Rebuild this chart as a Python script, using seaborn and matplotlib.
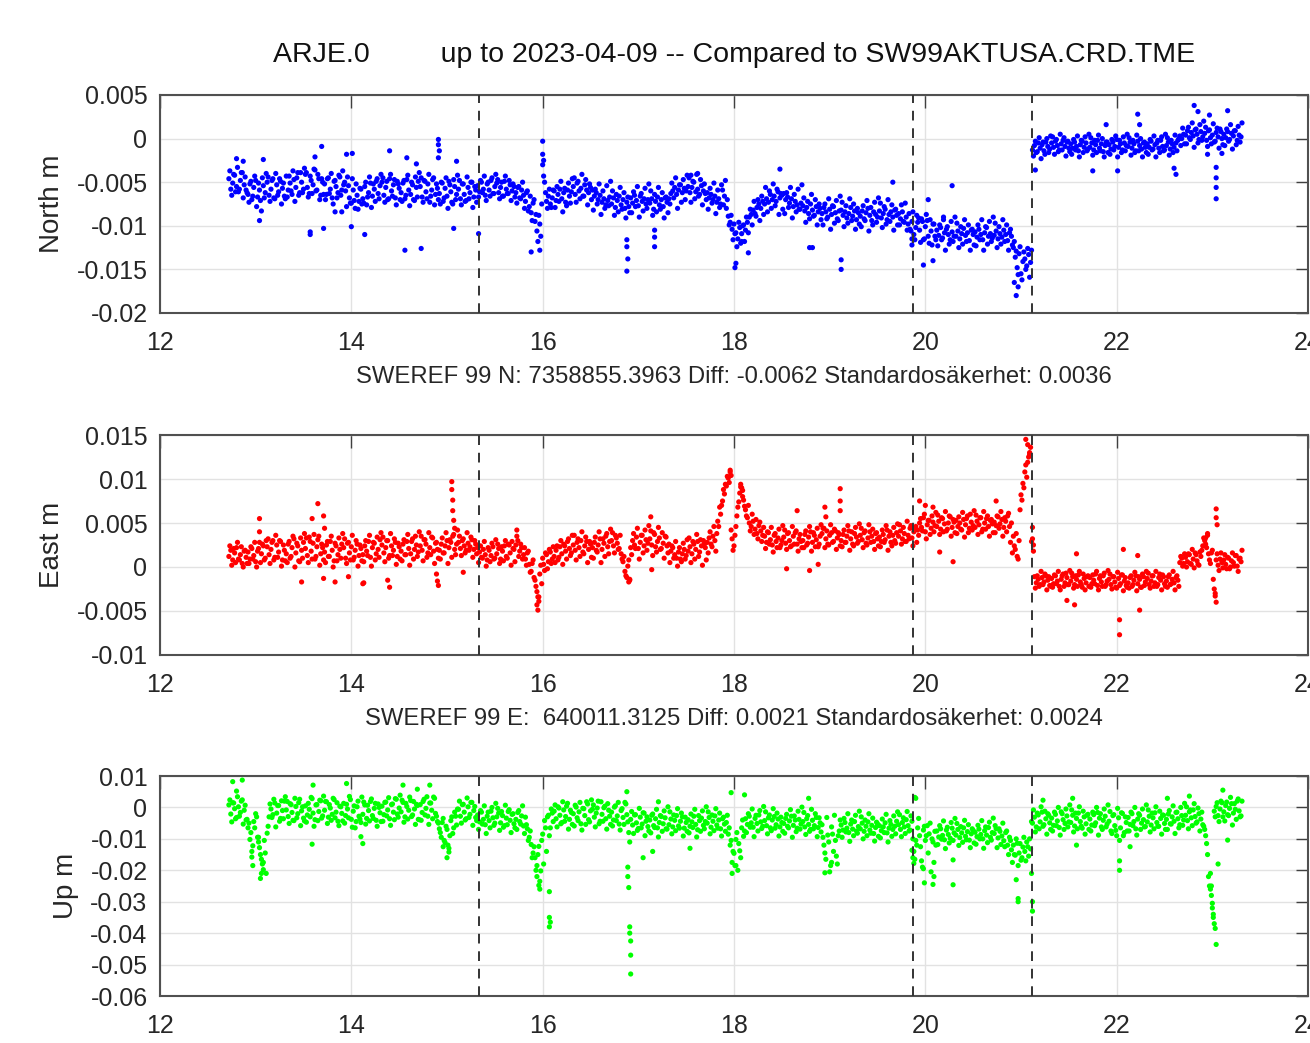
import numpy as np
import pandas as pd
import matplotlib
matplotlib.use("Agg")
import matplotlib.pyplot as plt
import seaborn as sns

# ---------------- data ----------------
title_text = "ARJE.0         up to 2023-04-09 -- Compared to SW99AKTUSA.CRD.TME"
north_info = "SWEREF 99 N: 7358855.3963 Diff: -0.0062 Standardosäkerhet: 0.0036"
east_info = "SWEREF 99 E:  640011.3125 Diff: 0.0021 Standardosäkerhet: 0.0024"
component_labels = ["North m", "East m", "Up m"]
break_epochs = [15.33, 19.87, 21.11]
x_ticks = [12, 14, 16, 18, 20, 22, 24]
north_ticks = [0.005, 0, -0.005, -0.01, -0.015, -0.02]
east_ticks = [0.015, 0.01, 0.005, 0, -0.005, -0.01]
up_ticks = [0.01, 0, -0.01, -0.02, -0.03, -0.04, -0.05, -0.06]

# two interleaved regular samplings of the series (years since 2000)
first_epoch_a = 12.72
first_epoch_b = 12.73
epoch_step = 0.02

# North residuals, mm (sampling a)
north_a_mm = [
    -4.6, -5.8, -5.1, -4.2, -5.5, -6.1, -4.8, -3.9, -5.3, -5.9,
    -6.4, -5.2, -7.0, -5.6, -4.8, -6.7, -5.9, -8.3, -5.4, -6.2,
    -5.0, -6.5, -5.8, -4.6, -6.9, -5.3, -6.1, -4.9, -5.7, -6.6,
    -4.3, -5.9, -5.1, -6.4, -4.7, -5.6, -3.9, -6.2, -5.0, -5.8,
    -4.1, -5.6, -6.3, -4.8, -5.3, -3.6, -5.9, -4.6, -6.5, -5.0,
    -5.2, -6.4, -4.5, -5.8, -6.8, -4.9, -5.5, -6.2, -4.4, -5.9,
    -5.3, -6.0, -4.4, -6.8, -7.4, -5.9, -8.0, -6.5, -7.2, -5.8,
    -6.9, -5.5, -7.6, -6.2, -5.1, -6.6, -5.8, -4.9, -6.3, -5.4,
    -5.0, -6.5, -5.6, -7.0, -4.6, -6.0, -5.3, -6.8, -4.9, -5.7,
    -6.2, -5.1, -6.9, -4.7, -5.9, -6.4, -5.3, -7.1, -5.6, -4.9,
    -5.5, -6.7, -4.8, -6.1, -5.2, -7.3, -5.9, -4.5, -6.4, -5.7,
    -6.3, -5.0, -7.2, -5.7, -6.6, -4.9, -6.1, -7.5, -5.5, -6.4,
    -5.8, -6.9, -5.2, -6.4, -7.1, -5.6, -6.2, -5.0, -6.7, -5.9,
    -5.4, -6.1, -5.0, -5.8, -6.5, -5.2, -5.9, -4.8, -6.3, -5.5,
    -5.1, -6.2, -5.6, -6.6, -4.9, -5.8, -6.3, -5.3, -6.0, -5.5,
    -6.2, -5.6, -6.8, -5.9, -6.5, -7.2, -6.0, -7.8, -8.5, -7.4,
    -9.5, -10.6, -8.8, -11.2, -3.0, -5.0, -7.2, -6.6, -7.5, -6.8,
    -6.0, -7.1, -6.4, -5.8, -6.9, -6.2, -7.3, -5.9, -6.6, -6.1,
    -5.5, -6.4, -5.1, -6.0, -5.7, -6.6, -5.3, -5.9, -6.2, -5.6,
    -5.9, -6.6, -6.2, -7.0, -6.5, -7.3, -6.9, -7.6, -7.1, -6.7,
    -7.5, -6.8, -7.9, -7.1, -6.6, -7.6, -7.0, -8.0, -7.3, -7.8,
    -6.8, -7.4, -6.5, -7.1, -7.7, -6.6, -7.2, -6.9, -7.5, -7.0,
    -7.4, -6.9, -8.1, -7.2, -6.7, -7.6, -7.0, -7.8, -6.8, -7.3,
    -6.9, -6.3, -6.0, -5.6, -6.4, -5.9, -5.3, -6.2, -5.7, -6.0,
    -5.5, -6.2, -5.6, -5.0, -6.1, -5.8, -6.4, -5.4, -6.0, -6.3,
    -6.2, -6.8, -6.4, -7.0, -6.6, -7.3, -6.9, -7.5, -5.9, -6.6,
    -8.0, -8.9, -9.6, -10.4, -9.8, -10.8, -11.5, -10.2, -10.9, -9.9,
    -10.5, -9.6, -9.0, -8.7, -8.2, -8.6, -7.9, -7.5, -8.0, -7.2,
    -7.5, -6.9, -7.3, -6.4, -7.0, -6.6, -7.2, -6.1, -6.8, -6.5,
    -6.3, -7.0, -6.7, -7.4, -6.9, -7.8, -7.2, -7.6, -8.1, -7.4,
    -7.7, -8.3, -7.9, -8.6, -7.5, -8.2, -8.8, -7.8, -8.4, -8.0,
    -8.6, -7.9, -8.4, -9.0, -8.1, -8.7, -7.8, -8.5, -9.2, -8.3,
    -8.2, -8.8, -8.4, -9.1, -8.6, -7.9, -8.9, -8.3, -9.3, -8.5,
    -8.9, -8.3, -9.2, -8.5, -8.0, -8.8, -9.4, -8.4, -8.7, -9.0,
    -8.3, -9.1, -8.6, -8.1, -9.3, -8.7, -8.4, -9.0, -8.2, -8.8,
    -8.6, -9.2, -8.4, -9.6, -9.0, -9.8, -10.4, -9.5, -11.0, -10.2,
    -9.6, -10.5, -9.2, -11.6, -10.1, -9.4, -12.0, -10.6, -9.8, -11.2,
    -10.5, -11.1, -10.2, -11.4, -10.8, -10.4, -11.0, -11.6, -10.7, -11.2,
    -11.2, -10.6, -11.5, -10.9, -10.3, -11.1, -10.8, -11.7, -10.5, -11.0,
    -10.7, -11.3, -10.4, -11.0, -11.6, -10.8, -10.2, -11.2, -10.9, -11.4,
    -11.1, -10.6, -11.5, -10.9, -11.3, -10.5, -11.0, -11.7, -10.8, -11.2,
    -12.5, -13.6, -14.8, -13.2, -15.5, -14.1, -13.8, -14.6, -13.3, -14.2,
    -1.3, -0.8, -1.6, -0.5, -1.1, -0.7, -1.4, -0.4, -0.9, -1.2,
    -0.5, -1.0, -0.3, -0.8, -1.3, -0.6, -0.2, -0.9, -0.4, -1.1,
    -0.6, -1.1, -0.4, -0.9, -1.4, -0.7, -0.3, -1.0, -0.5, -1.2,
    -1.0, -0.5, -1.3, -0.7, -0.2, -1.1, -0.6, -1.5, -0.8, -0.4,
    -0.7, -1.2, -0.4, -0.9, -0.1, -1.0, -0.6, -1.3, -0.5, -0.8,
    -0.9, -0.4, -1.1, -0.6, -1.4, -0.3, -0.8, -1.2, -0.5, -1.0,
    -0.6, -1.0, -0.3, -1.2, -0.7, -0.5, -1.1, -0.2, -0.9, -1.3,
    -0.8, -0.4, -1.2, -0.6, -1.0, -0.5, -0.2, 0.3, 0.0, 0.5,
    0.4, 0.9, 0.1, 0.7, 0.3, 1.0, 0.5, -0.1, 0.8, 0.2,
    0.6, -0.2, 0.9, 0.1, 0.4, -0.4, 0.7, 0.2, 1.1, 0.0,
    0.5, 0.1, 0.8, -0.1, 0.6, 0.3, 0.9, -0.2, 0.4, 0.2,
]
# North residuals, mm (sampling b)
north_b_mm = [
    -3.7, -6.5, -4.1, -6.1, -3.3, -5.8, -3.9, -6.8, -4.4, -6.2,
    -7.3, -4.9, -6.6, -4.3, -7.8, -5.1, -7.1, -4.5, -6.8, -4.0,
    -4.4, -7.2, -4.8, -6.8, -4.0, -6.5, -4.6, -7.5, -5.1, -6.9,
    -6.7, -4.3, -6.0, -3.7, -7.2, -4.5, -6.5, -3.9, -6.2, -3.4,
    -3.9, -6.7, -4.3, -6.3, -3.5, -6.0, -4.1, -7.0, -4.6, -6.4,
    -7.0, -4.6, -6.3, -4.0, -7.5, -4.8, -6.8, -4.2, -6.5, -3.7,
    -5.0, -7.8, -5.4, -7.4, -4.6, -7.1, -5.2, -8.1, -5.7, -7.5,
    -7.4, -5.0, -6.7, -4.4, -7.9, -5.2, -7.2, -4.6, -6.9, -4.1,
    -4.5, -7.3, -4.9, -6.9, -4.1, -6.6, -4.7, -7.6, -5.2, -7.0,
    -7.2, -4.8, -6.5, -4.2, -7.7, -5.0, -7.0, -4.4, -6.7, -3.9,
    -4.5, -7.3, -4.9, -6.9, -4.1, -6.6, -4.7, -7.6, -5.2, -7.0,
    -7.5, -5.1, -6.8, -4.5, -8.0, -5.3, -7.3, -4.7, -7.0, -4.2,
    -4.8, -7.6, -5.2, -7.2, -4.4, -6.9, -5.0, -7.9, -5.5, -7.3,
    -6.7, -4.8, -6.2, -4.3, -7.1, -5.0, -6.6, -4.5, -6.3, -4.1,
    -4.7, -6.9, -5.0, -6.6, -4.3, -6.3, -4.8, -7.1, -5.2, -6.7,
    -7.4, -5.5, -6.9, -5.0, -8.0, -6.2, -8.3, -6.6, -9.4, -7.0,
    -8.7, -11.8, -9.8, -7.5, -4.3, -6.2, -8.0, -5.8, -7.9, -5.9,
    -7.9, -5.5, -7.2, -4.9, -8.4, -5.7, -7.7, -5.1, -7.4, -4.6,
    -4.5, -7.3, -4.9, -6.9, -4.1, -6.6, -4.7, -7.6, -5.2, -7.0,
    -8.2, -5.8, -7.5, -5.2, -8.7, -6.0, -8.0, -5.4, -7.7, -4.9,
    -6.0, -8.8, -6.4, -8.4, -5.6, -8.1, -6.2, -9.1, -6.7, -8.5,
    -8.5, -6.1, -7.8, -5.5, -9.0, -6.3, -8.3, -5.7, -8.0, -5.2,
    -6.0, -8.8, -6.4, -8.4, -5.6, -8.1, -6.2, -9.1, -6.7, -8.5,
    -7.5, -5.1, -6.8, -4.5, -8.0, -5.3, -7.3, -4.7, -7.0, -4.2,
    -4.5, -7.3, -4.9, -6.9, -4.1, -6.6, -4.7, -7.6, -5.2, -7.0,
    -8.1, -5.7, -7.4, -5.1, -8.6, -5.9, -7.9, -5.3, -7.6, -4.8,
    -7.0, -9.9, -8.8, -11.6, -10.9, -12.4, -9.6, -12.0, -10.0, -11.8,
    -9.0, -10.8, -8.1, -9.9, -7.2, -8.9, -7.0, -9.4, -6.6, -8.7,
    -5.6, -8.4, -6.0, -8.0, -5.2, -7.7, -5.8, -8.7, -6.3, -8.1,
    -8.6, -6.2, -7.9, -5.6, -9.1, -6.4, -8.4, -5.8, -8.1, -5.3,
    -6.8, -9.6, -7.2, -9.2, -6.4, -8.9, -7.0, -9.9, -7.5, -9.3,
    -9.9, -7.5, -9.2, -6.9, -10.4, -7.7, -9.7, -7.1, -9.4, -6.6,
    -7.3, -10.1, -7.7, -9.7, -6.9, -9.4, -7.5, -10.4, -8.0, -9.8,
    -10.1, -7.7, -9.4, -7.1, -10.6, -7.9, -9.9, -7.3, -9.6, -6.8,
    -7.4, -10.2, -7.8, -9.8, -7.0, -9.5, -7.6, -10.5, -8.1, -9.9,
    -9.9, -7.6, -9.5, -7.4, -10.5, -8.6, -10.6, -8.4, -11.6, -8.8,
    -9.1, -11.9, -9.5, -11.5, -8.7, -11.2, -9.3, -12.2, -9.8, -11.6,
    -12.3, -9.9, -11.6, -9.3, -12.8, -10.1, -12.1, -9.5, -11.8, -9.0,
    -9.7, -12.5, -10.1, -12.1, -9.3, -11.8, -9.9, -12.8, -10.4, -12.2,
    -12.3, -9.9, -11.6, -9.3, -12.8, -10.1, -12.1, -9.5, -11.8, -9.0,
    -9.7, -12.5, -10.1, -12.1, -9.3, -11.8, -9.9, -12.8, -10.4, -12.2,
    -11.8, -12.9, -15.6, -12.4, -16.2, -13.0, -15.0, -12.6, -15.9, -12.8,
    -2.0, -0.3, -1.5, 0.1, -2.3, -0.4, -1.8, 0.0, -1.6, 0.3,
    0.2, -1.8, -0.1, -1.5, 0.5, -1.3, 0.1, -2.0, -0.3, -1.5,
    -1.8, -0.1, -1.3, 0.3, -2.1, -0.2, -1.6, 0.2, -1.4, 0.5,
    0.1, -1.9, -0.2, -1.6, 0.4, -1.4, 0.0, -2.1, -0.4, -1.6,
    -1.8, -0.1, -1.3, 0.3, -2.1, -0.2, -1.6, 0.2, -1.4, 0.5,
    0.1, -1.9, -0.2, -1.6, 0.4, -1.4, 0.0, -2.1, -0.4, -1.6,
    -1.8, -0.1, -1.3, 0.3, -2.1, -0.2, -1.6, 0.2, -1.4, 0.5,
    0.1, -1.9, -0.2, -1.6, 0.4, -1.4, 0.0, -0.8, 1.2, -0.6,
    -0.6, 1.3, -0.1, 1.8, -1.0, 1.1, -0.5, 1.6, -0.2, 2.0,
    1.3, -0.9, 1.0, -0.6, 1.7, -0.3, 1.2, -1.1, 0.8, -0.7,
    -0.8, 1.1, -0.3, 1.6, -1.2, 0.9, -0.7, 1.4, -0.4, 1.8,
]
north_outliers = [
    (12.80, -2.3), (12.87, -2.6), (13.04, -9.4), (13.08, -2.4), (13.57, -10.7),
    (13.57, -11.0), (13.69, -0.9), (13.62, -2.1), (13.71, -10.3), (13.83, -8.4),
    (13.90, -8.4), (13.95, -1.8), (14.01, -1.7), (14.00, -10.1), (14.14, -11.0),
    (14.56, -12.8), (14.73, -12.6), (14.40, -1.4), (14.58, -2.2), (14.68, -2.9),
    (14.91, -0.1), (14.91, -0.7), (14.92, -1.4), (14.91, -2.2), (15.07, -10.3),
    (15.10, -2.6), (15.33, -10.9), (15.88, -13.0), (15.97, -12.8), (16.00, -0.3),
    (16.00, -1.8), (16.01, -2.5), (16.88, -11.6), (16.88, -12.4), (16.89, -13.8),
    (16.88, -15.2), (17.17, -10.5), (17.17, -11.3), (17.17, -12.4), (17.62, -4.0),
    (17.55, -4.2), (18.01, -14.8), (18.02, -14.3), (18.15, -13.1), (18.08, -11.8),
    (18.48, -3.5), (18.79, -12.5), (18.82, -12.5), (19.12, -13.9), (19.12, -15.0),
    (19.66, -5.0), (19.86, -11.5), (19.86, -12.2), (19.98, -14.5), (20.08, -14.0),
    (20.03, -7.0), (20.28, -5.4), (20.19, -9.0), (20.93, -16.5), (20.95, -18.0),
    (20.97, -17.0), (21.15, -3.6), (21.75, -3.7), (22.01, -3.7), (22.22, 2.8),
    (22.24, 1.6), (21.89, 1.6), (22.62, -4.1), (22.60, -3.4), (22.81, 3.8),
    (22.85, 3.1), (22.97, 2.7), (23.16, 3.2), (23.04, -3.3), (23.04, -4.5),
    (23.04, -5.6), (23.04, -6.9), (23.10, -1.7), (22.95, -1.8),
]

# East residuals, mm (sampling a)
east_a_mm = [
    1.2, 1.9, 0.8, 1.6, 2.2, 0.9, 1.4, 0.4, 1.8, 1.1,
    1.7, 0.9, 2.1, 1.3, 0.6, 1.8, 2.8, 1.5, 2.4, 1.0,
    2.3, 1.4, 2.0, 3.0, 1.1, 2.5, 1.7, 2.9, 0.8, 1.9,
    1.5, 2.6, 1.0, 2.2, 3.2, 1.6, 2.4, 0.6, 1.9, 2.8,
    2.1, 1.3, 3.4, 1.8, 2.7, 0.9, 2.3, 3.5, 1.5, 2.2,
    1.7, 2.5, 1.2, 2.9, 1.9, 0.7, 2.4, 1.4, 2.0, 2.6,
    2.2, 1.0, 2.7, 1.6, 2.3, 0.8, 1.9, 2.6, 1.3, 2.1,
    1.4, 2.4, 1.8, 2.9, 1.1, 2.2, 2.7, 1.5, 2.0, 3.1,
    2.5, 1.6, 2.2, 3.0, 1.3, 2.4, 1.9, 2.8, 1.2, 2.3,
    1.8, 2.6, 1.4, 2.9, 2.1, 1.5, 3.2, 2.0, 2.5, 1.7,
    2.4, 1.9, 3.1, 2.6, 1.6, 2.2, 3.4, 1.8, 2.7, 2.0,
    1.9, 2.6, 1.6, 2.4, 3.0, 2.2, 2.8, 3.5, 2.0, 2.6,
    2.8, 2.1, 3.0, 2.4, 1.9, 2.7, 2.3, 3.1, 2.0, 2.6,
    2.2, 1.7, 1.1, 2.0, 1.4, 0.8, 1.9, 1.3, 2.3, 1.0,
    1.5, 2.1, 0.9, 1.8, 2.4, 1.2, 2.6, 1.6, 2.9, 2.0,
    2.5, 3.0, 1.8, 2.2, 1.4, 0.9, 1.6, 0.3, -0.5, 0.8,
    -1.5, -2.8, -3.9, 0.2, 1.0, -0.4, 1.4, 0.6, 1.7, 0.9,
    1.2, 1.9, 0.8, 2.3, 1.5, 2.6, 1.8, 2.9, 2.1, 1.6,
    2.5, 1.9, 2.8, 2.2, 3.0, 1.7, 2.4, 2.9, 2.0, 2.6,
    2.2, 2.8, 1.9, 2.5, 3.2, 2.0, 2.7, 3.5, 2.3, 2.9,
    3.0, 2.4, 3.6, 2.7, 2.1, 1.5, 0.6, -0.5, -1.2, 0.8,
    2.2, 3.0, 2.5, 3.4, 2.1, 2.8, 3.6, 2.4, 3.1, 2.7,
    3.2, 2.5, 3.9, 2.3, 2.9, 3.3, 2.1, 2.7, 3.5, 2.4,
    2.6, 1.8, 2.2, 1.4, 1.0, 1.7, 0.9, 1.5, 2.0, 1.3,
    1.8, 2.3, 1.5, 2.6, 2.0, 2.9, 1.7, 2.4, 3.0, 2.2,
    2.8, 3.3, 2.6, 3.5, 3.0, 3.8, 4.6, 6.0, 7.5, 8.3,
    9.2, 10.1, 10.8, 3.2, 2.4, 4.6, 6.8, 8.4, 9.0, 7.6,
    6.5, 5.6, 5.0, 4.6, 5.2, 4.3, 3.8, 4.7, 4.1, 3.6,
    3.5, 2.8, 3.9, 3.1, 2.5, 3.6, 2.9, 3.3, 2.2, 3.0,
    3.4, 2.7, 3.8, 3.0, 2.4, 3.5, 3.9, 2.6, 3.2, 2.9,
    3.0, 3.7, 2.5, 3.4, 4.0, 2.8, 3.6, 3.1, 2.3, 3.5,
    3.8, 4.4, 3.2, 2.6, 3.6, 3.9, 2.9, 4.1, 3.3, 3.7,
    3.0, 3.7, 2.8, 3.5, 4.1, 3.2, 2.6, 3.8, 3.4, 2.9,
    3.6, 3.1, 3.9, 2.7, 3.3, 4.0, 3.5, 2.9, 3.8, 3.2,
    3.4, 2.9, 3.7, 3.1, 4.2, 3.5, 2.8, 3.6, 3.0, 3.9,
    3.5, 4.1, 3.2, 3.8, 2.9, 3.6, 4.4, 3.3, 4.0, 4.6,
    4.2, 5.0, 4.5, 5.6, 4.0, 4.8, 5.3, 4.4, 5.1, 4.7,
    4.6, 5.2, 4.3, 5.5, 4.9, 4.1, 5.0, 5.7, 4.5, 5.1,
    5.3, 4.6, 5.0, 4.2, 5.4, 4.8, 5.8, 4.4, 5.1, 4.7,
    4.5, 5.2, 4.8, 5.6, 4.3, 5.0, 5.5, 4.6, 5.3, 4.9,
    5.1, 4.7, 5.7, 4.9, 5.4, 4.5, 5.2, 5.8, 4.6, 5.0,
    3.5, 2.0, 1.2, 3.0, 8.2, 9.5, 10.8, 10.2, 12.5, 13.6,
    3.2, -1.1, -1.8, -1.4, -2.0, -1.2, -1.7, -1.0, -1.5, -2.1,
    -1.3, -1.9, -1.0, -1.6, -2.2, -1.4, -0.8, -1.8, -1.2, -2.0,
    -1.6, -1.1, -2.0, -1.4, -0.9, -1.7, -2.3, -1.3, -1.8, -1.0,
    -1.2, -1.9, -1.5, -0.8, -2.1, -1.3, -1.7, -1.0, -2.2, -1.6,
    -1.4, -2.0, -1.1, -1.7, -2.4, -1.3, -1.9, -0.9, -1.6, -2.1,
    -1.8, -1.2, -2.2, -1.5, -1.0, -1.9, -1.4, -2.3, -1.1, -1.7,
    -1.3, -2.0, -1.6, -1.0, -1.8, -2.2, -1.2, -1.5, -0.9, -1.9,
    -1.6, -1.1, -2.0, -1.4, -1.8, -1.2, -1.5, 0.5, 1.0, 0.4,
    1.1, 0.6, 1.4, 0.3, 0.9, 1.6, 0.7, 0.2, 1.2, 2.4,
    3.0, 2.2, 1.5, 0.4, 1.9, -2.5, 0.8, 0.2, 0.9, 0.5,
    0.8, 0.3, 1.1, -0.2, 0.7, 0.5, 1.3, 0.1, 0.9, 0.6,
]
# East residuals, mm (sampling b)
east_b_mm = [
    2.4, 0.2, 2.1, 0.5, 2.8, 0.8, 2.3, 0.0, 1.9, 0.4,
    0.4, 2.3, 0.9, 2.8, 0.0, 2.1, 0.5, 2.6, 0.8, 3.0,
    3.2, 0.4, 2.8, 0.8, 3.6, 1.1, 3.0, 0.1, 2.5, 0.7,
    0.5, 2.9, 1.2, 3.5, 0.0, 2.7, 0.7, 3.3, 1.0, 3.8,
    3.3, 0.5, 2.9, 0.9, 3.7, 1.2, 3.1, 0.2, 2.6, 0.8,
    0.5, 2.9, 1.2, 3.5, 0.0, 2.7, 0.7, 3.3, 1.0, 3.8,
    3.2, 0.4, 2.8, 0.8, 3.6, 1.1, 3.0, 0.1, 2.5, 0.7,
    0.6, 3.0, 1.3, 3.6, 0.1, 2.8, 0.8, 3.4, 1.1, 3.9,
    3.4, 0.6, 3.0, 1.0, 3.8, 1.3, 3.2, 0.3, 2.7, 0.9,
    0.7, 3.1, 1.4, 3.7, 0.2, 2.9, 0.9, 3.5, 1.2, 4.0,
    3.5, 0.7, 3.1, 1.1, 3.9, 1.4, 3.3, 0.4, 2.8, 1.0,
    0.9, 3.3, 1.6, 3.9, 0.4, 3.1, 1.1, 3.7, 1.4, 4.2,
    3.5, 1.3, 3.2, 1.6, 3.9, 1.9, 3.4, 1.1, 3.0, 1.5,
    0.5, 2.4, 1.0, 2.9, 0.1, 2.2, 0.6, 2.7, 0.9, 3.1,
    2.6, 0.4, 2.3, 0.7, 3.0, 1.0, 2.5, 0.2, 2.1, 0.6,
    3.5, 1.2, 2.6, 0.9, 2.2, 0.2, 1.8, -0.6, 0.4, -1.2,
    -2.2, -3.4, -0.8, -1.9, 0.3, 1.6, -0.2, 2.0, 0.4, 2.3,
    0.5, 2.4, 1.1, 3.0, 0.3, 2.4, 0.9, 3.2, 1.3, 3.6,
    3.6, 0.8, 3.2, 1.2, 4.0, 1.5, 3.4, 0.5, 2.9, 1.1,
    1.0, 3.4, 1.7, 4.0, 0.5, 3.2, 1.2, 3.8, 1.5, 4.3,
    3.9, 1.6, 3.3, 2.0, 3.6, 0.9, 1.2, -1.0, 0.1, -1.5,
    1.4, 3.8, 2.1, 4.4, 0.9, 3.6, 1.6, 4.2, 1.9, 4.7,
    4.1, 1.3, 3.7, 1.7, 4.5, 2.0, 3.9, 1.0, 3.4, 1.6,
    0.5, 2.4, 1.0, 2.9, 0.1, 2.2, 0.6, 2.7, 0.9, 3.1,
    3.3, 0.5, 2.9, 0.9, 3.7, 1.2, 3.1, 0.2, 2.6, 0.8,
    1.6, 4.0, 2.3, 4.6, 1.8, 5.2, 6.8, 7.0, 8.8, 9.4,
    10.3, 9.6, 4.2, 1.9, 3.6, 5.8, 7.4, 9.1, 8.0, 6.9,
    5.8, 7.0, 4.1, 6.0, 3.7, 5.4, 3.2, 5.1, 2.9, 4.5,
    2.1, 4.0, 2.6, 4.5, 1.7, 3.8, 2.2, 4.3, 2.5, 4.7,
    4.2, 2.0, 3.9, 2.3, 4.6, 2.6, 4.1, 1.8, 3.7, 2.2,
    2.2, 4.1, 2.7, 4.6, 1.8, 3.9, 2.3, 4.4, 2.6, 4.8,
    4.4, 2.2, 4.1, 2.5, 4.8, 2.8, 4.3, 2.0, 3.9, 2.4,
    2.3, 4.2, 2.8, 4.7, 1.9, 4.0, 2.4, 4.5, 2.7, 4.9,
    4.4, 2.2, 4.1, 2.5, 4.8, 2.8, 4.3, 2.0, 3.9, 2.4,
    2.3, 4.2, 2.8, 4.7, 1.9, 4.0, 2.4, 4.5, 2.7, 4.9,
    4.8, 2.6, 4.5, 2.9, 5.2, 3.2, 4.7, 2.4, 4.3, 2.8,
    3.6, 5.5, 4.1, 6.0, 3.2, 5.3, 3.7, 5.8, 4.0, 6.2,
    5.9, 3.7, 5.6, 4.0, 6.3, 4.3, 5.8, 3.5, 5.4, 3.9,
    3.8, 5.7, 4.3, 6.2, 3.4, 5.5, 3.9, 6.0, 4.2, 6.4,
    5.9, 3.7, 5.6, 4.0, 6.3, 4.3, 5.8, 3.5, 5.4, 3.9,
    3.9, 5.8, 4.4, 6.3, 3.5, 5.6, 4.0, 6.1, 2.8, 1.6,
    2.4, 3.8, 0.9, 6.5, 7.6, 9.0, 11.6, 11.9, 13.0, 2.9,
    1.8, -2.4, -1.0, -2.2, -0.5, -2.0, -0.8, -2.6, -1.1, -2.2,
    -2.3, -0.9, -1.9, -0.5, -2.6, -1.0, -2.2, -0.7, -2.0, -0.4,
    -0.7, -2.4, -1.0, -2.2, -0.5, -2.0, -0.8, -2.6, -1.1, -2.2,
    -2.3, -0.9, -1.9, -0.5, -2.6, -1.0, -2.2, -0.7, -2.0, -0.4,
    -0.8, -2.5, -1.1, -2.3, -0.6, -2.1, -0.9, -2.7, -1.2, -2.3,
    -2.4, -1.0, -2.0, -0.6, -2.7, -1.1, -2.3, -0.8, -2.1, -0.5,
    -0.7, -2.4, -1.0, -2.2, -0.5, -2.0, -0.8, -2.6, -1.1, -2.2,
    -2.3, -0.9, -1.9, -0.5, -2.6, -1.0, -2.2, 1.2, 0.1, 1.5,
    0.0, 1.5, 0.4, 2.0, -0.1, 1.4, 0.3, 1.7, 1.9, 3.3,
    2.6, 3.6, 0.8, 1.6, -1.4, -3.3, 1.5, -0.4, 1.6, -0.1,
    1.4, -0.2, 1.0, 0.0, 1.6, 0.1, 1.3, -0.5, 1.0, 1.9,
]
east_outliers = [
    (13.04, 5.5), (13.04, 4.0), (13.65, 7.2), (13.59, 5.5), (13.71, 5.8),
    (13.72, 4.4), (13.48, -1.7), (13.71, -1.3), (13.83, -1.7), (13.97, -1.1),
    (14.12, -1.9), (14.13, -1.8), (14.40, -2.3), (14.38, -1.5), (14.89, -0.8),
    (14.90, -1.6), (14.91, -2.1), (15.05, 9.7), (15.05, 8.8), (15.06, 7.6),
    (15.06, 6.4), (15.07, 5.3), (15.08, 4.4), (15.17, -0.6), (15.73, 4.2),
    (15.95, -4.9), (15.94, -4.3), (15.96, -3.4), (16.90, -1.7), (16.91, -1.4),
    (17.13, 5.7), (17.14, -0.3), (17.96, 11.0), (17.97, 10.4), (18.07, 9.4),
    (18.09, 8.7), (18.55, -0.2), (18.66, 6.4), (18.95, 6.8), (18.96, 5.7),
    (19.11, 8.9), (19.11, 7.5), (19.11, 6.4), (18.79, -0.4), (18.88, 0.3),
    (19.94, 7.5), (20.00, 7.0), (20.08, 6.8), (20.74, 7.5), (20.29, 0.6),
    (20.15, 1.7), (21.05, 14.5), (21.07, 13.9), (21.09, 12.8), (21.58, 1.5),
    (22.07, 2.0), (22.22, 1.3), (22.03, -6.0), (22.03, -7.7), (22.24, -4.9),
    (21.56, -4.3), (21.48, -3.8), (23.04, 6.6), (23.04, 5.6), (23.05, 4.8),
    (23.03, -3.0), (23.04, -4.0), (22.95, 3.8), (22.93, 3.3), (21.12, 4.5),
    (21.13, 2.5),
]

# Up residuals, mm (sampling a)
up_a_mm = [
    0.8, -2.1, 1.5, -0.4, -3.2, 0.2, -1.6, 2.4, -0.9, -4.0,
    -6.5, -10.2, -14.0, -4.5, -2.0, -9.5, -12.8, -16.5, -19.8, -14.5,
    -8.2, -3.0, -0.5, -2.3, 1.4, -1.8, 0.6, -3.5, -1.0, 2.0,
    -0.8, -2.9, 1.2, -1.6, -4.2, 0.3, -2.0, 2.6, -1.1, -3.4,
    0.5, -2.4, -0.6, 3.2, -1.8, -3.9, 0.9, -1.3, 2.1, -2.7,
    -0.9, 1.8, -3.1, -0.2, -2.2, 2.5, -1.5, -4.4, 0.4, -1.9,
    1.3, -2.6, -0.5, 3.5, -3.8, -1.2, -6.5, 0.2, -2.8, -4.8,
    -2.2, 0.8, -3.5, -1.0, 1.9, -2.6, -0.3, -4.1, 1.1, -1.7,
    0.4, -2.3, 1.7, -0.8, -3.6, 0.9, -1.5, 2.8, -2.1, -0.2,
    -1.4, 1.6, -3.0, 0.3, -0.9, 2.2, -2.4, -0.5, 1.0, -3.8,
    0.9, -1.6, 2.6, -0.3, -2.8, 1.4, -0.9, 3.3, -1.9, -4.5,
    -6.8, -9.5, -3.5, -11.2, -7.0, -13.0, -4.2, -8.3, -1.5, -5.6,
    -0.6, -2.8, 0.9, -1.5, -3.6, 0.2, -2.2, 1.6, -1.0, -3.2,
    -2.4, -4.6, -1.5, -3.8, -5.5, -2.8, -4.2, -1.2, -3.3, -5.0,
    -3.0, -1.8, -4.9, -2.6, -5.8, -3.4, -1.3, -4.1, -2.2, -5.2,
    -3.8, -1.6, -4.5, -2.7, -5.9, -3.1, -6.8, -9.5, -11.8, -14.5,
    -16.0, -18.5, -12.4, -20.2, -8.5, -4.2, -14.0, -2.5, -6.5, -1.8,
    -1.2, -3.6, 0.2, -2.5, -4.8, -0.8, -2.9, 1.3, -3.8, -1.6,
    -2.0, 0.7, -3.3, -1.4, -5.2, -0.3, -2.6, 1.8, -3.9, -1.1,
    -0.6, -3.1, -1.8, 2.0, -4.4, -2.2, -0.1, -3.6, 1.2, -2.8,
    -1.5, -4.0, 0.5, -2.7, -5.3, -1.0, -3.2, 1.6, -2.3, -8.0,
    -3.8, -5.6, -2.4, -4.9, -6.7, -3.1, -5.3, -1.8, -4.4, -6.1,
    -4.0, -2.5, -5.8, -3.6, -6.5, -4.8, -2.9, -5.2, -3.3, -6.9,
    -5.5, -3.7, -6.2, -4.1, -2.6, -5.9, -4.4, -3.0, -6.6, -4.8,
    -3.9, -6.0, -4.6, -2.8, -5.4, -7.1, -4.2, -3.4, -5.7, -4.5,
    -5.0, -3.2, -6.3, -4.4, -2.7, -5.6, -4.0, -6.8, -3.6, -5.3,
    -4.8, -8.5, -12.0, -17.5, -14.6, -10.2, -20.0, -13.8, -6.5, -9.2,
    -3.6, -5.4, -2.8, -4.9, -6.3, -3.5, -5.1, -2.4, -4.6, -6.0,
    -4.2, -5.8, -3.3, -6.5, -4.0, -2.9, -5.5, -3.7, -6.2, -4.8,
    -5.1, -3.5, -6.0, -4.3, -2.8, -5.7, -4.0, -6.6, -3.8, -5.3,
    -4.5, -6.2, -3.6, -5.4, -7.0, -4.1, -5.8, -3.2, -6.4, -4.9,
    -5.5, -12.0, -16.5, -8.8, -20.5, -6.2, -14.0, -10.5, -18.0, -7.5,
    -5.6, -7.2, -4.8, -6.6, -8.0, -5.3, -6.9, -4.5, -7.5, -6.1,
    -6.8, -5.0, -7.6, -6.0, -4.6, -7.2, -5.7, -8.3, -6.4, -5.2,
    -5.8, -7.4, -6.2, -4.9, -8.1, -6.6, -5.4, -7.0, -6.0, -4.4,
    -5.5, -7.0, -4.8, -6.2, -3.9, -5.8, -7.2, -4.4, -14.0, -10.5,
    -6.5, -9.0, -17.0, -7.2, -10.5, -5.8, -8.4, -20.5, -11.0, -7.6,
    -7.5, -9.4, -6.8, -8.9, -10.3, -7.2, -8.6, -9.8, -6.6, -8.1,
    -8.8, -7.0, -9.6, -8.1, -6.5, -9.2, -7.7, -10.4, -8.4, -7.3,
    -7.9, -9.3, -6.9, -8.6, -10.0, -7.4, -8.8, -6.4, -9.5, -8.0,
    -8.3, -6.8, -9.7, -7.6, -9.1, -10.6, -8.0, -12.0, -9.5, -13.5,
    -12.0, -15.2, -11.4, -14.5, -16.8, -12.6, -14.0, -11.0, -15.5, -13.2,
    -5.0, -3.1, -6.2, -2.4, -4.6, -1.5, -5.5, -3.6, -2.0, -4.9,
    -3.4, -5.7, -2.2, -4.3, -6.4, -1.4, -3.9, -5.1, -2.7, -4.6,
    -4.8, -2.5, -5.9, -3.5, -1.8, -4.5, -6.6, -3.0, -5.2, -2.2,
    -3.7, -5.6, -2.3, -4.9, -1.6, -3.4, -6.2, -4.1, -2.8, -5.3,
    -4.4, -7.5, -2.6, -5.8, -9.0, -3.3, -6.5, -1.9, -8.0, -4.8,
    -3.2, -5.4, -2.0, -4.5, -6.8, -3.7, -2.5, -5.0, -3.9, -6.1,
    -4.6, -2.8, -5.6, -3.3, -1.7, -4.8, -6.0, -3.5, -2.4, -5.1,
    -3.8, -2.1, -5.2, -3.0, -4.4, -1.6, -3.6, -5.5, -2.6, -4.0,
    -2.5, -4.2, -1.4, -3.3, -0.8, -2.9, -4.6, -2.0, -3.7, -5.5,
    -7.0, -11.5, -22.0, -26.0, -30.5, -1.2, 0.3, -2.6, -0.5, 1.5,
    -1.4, 0.6, -2.3, -0.3, 1.2, -1.8, -0.6, 2.0, -1.1, -2.7,
]
# Up residuals, mm (sampling b)
up_b_mm = [
    2.4, -4.6, 1.4, -3.6, 3.4, -2.8, 2.0, -5.3, 0.7, -3.8,
    -5.0, -8.0, -12.2, -6.5, -3.0, -11.0, -15.0, -18.0, -10.5, -21.0,
    -6.0, 1.1, -3.2, 2.6, -6.2, 0.6, -4.4, 2.1, -3.6, 3.4,
    1.9, -5.1, 0.9, -4.1, 2.9, -3.3, 1.5, -5.8, 0.2, -4.3,
    -4.7, 1.3, -3.0, 2.8, -6.0, 0.8, -4.2, 2.3, -3.4, 3.6,
    1.9, -5.1, 0.9, -4.1, 2.9, -3.3, 1.5, -5.8, 0.2, -4.3,
    -5.0, 1.0, -3.3, 2.5, -6.3, 0.5, -4.5, 2.0, -3.7, 3.3,
    1.7, -5.3, 0.7, -4.3, 2.7, -3.5, 1.3, -6.0, 0.0, -4.5,
    -4.4, 1.6, -2.7, 3.1, -5.7, 1.1, -3.9, 2.6, -3.1, 3.9,
    2.3, -4.7, 1.3, -3.7, 3.3, -2.9, 1.9, -5.4, 0.6, -3.9,
    -4.1, 1.9, -2.4, 3.4, -5.4, 1.4, -3.6, 2.9, -2.8, -5.0,
    -8.0, -4.8, -10.5, -6.0, -12.0, -9.0, -3.0, -6.5, -2.8, -0.5,
    2.0, -5.0, 1.0, -4.0, 3.0, -3.2, 1.6, -5.7, 0.3, -4.2,
    -7.0, -1.0, -5.3, 0.5, -8.3, -1.5, -6.5, 0.0, -5.7, 1.3,
    -0.3, -7.3, -1.3, -6.3, 0.7, -5.5, -0.7, -8.0, -2.0, -6.5,
    -7.0, -1.0, -5.3, 0.5, -8.3, -5.5, -10.5, -7.5, -16.0, -12.5,
    -20.0, -15.0, -23.5, -10.5, -18.0, -6.5, -3.0, -9.0, -0.5, -4.5,
    0.8, -6.2, -0.2, -5.2, 1.8, -4.4, 0.4, -6.9, -0.9, -5.4,
    -5.9, 0.1, -4.2, 1.6, -7.2, -0.4, -5.4, 1.1, -4.6, 2.4,
    0.8, -6.2, -0.2, -5.2, 1.8, -4.4, 0.4, -6.9, -0.9, -5.4,
    -5.9, 0.1, -4.2, 1.6, -7.2, -0.4, -5.4, 1.1, -4.6, -11.0,
    -1.3, -8.3, -2.3, -7.3, -0.3, -6.5, -1.7, -9.0, -3.0, -7.5,
    -8.1, -2.1, -6.4, -0.6, -9.4, -2.6, -7.6, -1.1, -6.8, 0.2,
    -1.4, -8.4, -2.4, -7.4, -0.4, -6.6, -1.8, -9.1, -3.1, -7.6,
    -8.1, -2.1, -6.4, -0.6, -9.4, -2.6, -7.6, -1.1, -6.8, 0.2,
    -1.4, -8.4, -2.4, -7.4, -0.4, -6.6, -1.8, -9.1, -3.1, -7.6,
    -2.5, -6.5, -10.5, -14.0, -18.5, -8.0, -11.5, -16.0, -4.0, -7.5,
    -8.0, -2.0, -6.3, -0.5, -9.3, -2.5, -7.5, -1.0, -6.7, 0.3,
    -1.4, -8.4, -2.4, -7.4, -0.4, -6.6, -1.8, -9.1, -3.1, -7.6,
    -8.2, -2.2, -6.5, -0.7, -9.5, -2.7, -7.7, -1.2, -6.9, 0.1,
    -1.6, -8.6, -2.6, -7.6, -0.6, -6.8, -2.0, -9.3, -3.3, -7.8,
    -9.5, -14.5, -3.2, -11.0, -18.5, -8.5, -2.5, -15.5, -9.0, -4.0,
    -9.5, -3.5, -7.8, -2.0, -10.8, -4.0, -9.0, -2.5, -8.2, -1.2,
    -3.0, -10.0, -4.0, -9.0, -2.0, -8.2, -3.4, -10.7, -4.7, -9.2,
    -9.7, -3.7, -8.0, -2.2, -11.0, -4.2, -9.2, -2.7, -8.4, -1.4,
    -2.3, -9.3, -3.3, -8.3, -1.3, -7.5, -2.7, -10.0, -16.5, -12.0,
    -3.5, -12.5, -19.0, -6.0, -9.0, -14.5, -5.0, -10.0, -17.5, -12.0,
    -11.8, -5.8, -10.1, -4.3, -13.1, -6.3, -11.3, -4.8, -10.5, -3.5,
    -5.1, -12.1, -6.1, -11.1, -4.1, -10.3, -5.5, -12.8, -6.8, -11.3,
    -11.7, -5.7, -10.0, -4.2, -13.0, -6.2, -11.2, -4.7, -10.4, -3.4,
    -5.8, -12.8, -6.8, -11.8, -5.0, -12.5, -7.5, -15.0, -10.5, -17.5,
    -15.0, -10.0, -18.5, -11.5, -16.0, -9.5, -17.0, -12.5, -10.0, -4.5,
    -0.8, -7.8, -1.8, -6.8, 0.2, -6.0, -1.2, -8.5, -2.5, -7.0,
    -7.5, -1.5, -5.8, 0.0, -8.8, -2.0, -7.0, -0.5, -6.2, 0.8,
    -0.8, -7.8, -1.8, -6.8, 0.2, -6.0, -1.2, -8.5, -2.5, -7.0,
    -7.5, -1.5, -5.8, 0.0, -8.8, -2.0, -7.0, -0.5, -6.2, 0.8,
    -1.3, -8.3, -2.3, -7.3, -0.3, -10.5, -1.7, -9.0, -3.0, -7.5,
    -7.5, -1.5, -5.8, 0.0, -8.8, -2.0, -7.0, -0.5, -6.2, 0.8,
    -0.8, -7.8, -1.8, -6.8, 0.2, -6.0, -1.2, -8.5, -2.5, -7.0,
    -7.0, -1.0, -5.3, 0.5, -8.3, -1.5, -6.5, 0.0, -5.7, 1.3,
    0.2, -6.8, -0.8, -5.8, 1.2, -5.0, -0.2, -7.5, -1.5, -6.0,
    -9.0, -15.0, -25.0, -28.0, -34.0, -3.0, 1.5, -4.5, 2.0, -3.0,
    -4.3, 1.7, -2.6, 3.2, -5.6, 1.2, -3.8, 2.7, -3.0, 2.0,
]
up_outliers = [
    (12.76, 8.2), (12.86, 8.7), (12.80, 5.2), (12.97, -18.5), (12.96, -15.8),
    (13.05, -22.6), (13.06, -21.0), (13.08, -17.5), (13.03, -9.5), (13.60, 7.1),
    (13.95, 7.6), (13.59, -11.7), (14.12, -11.5), (14.10, -9.3), (14.54, 7.1),
    (14.82, 7.1), (14.69, 5.8), (15.00, -16.0), (15.02, -14.2), (14.96, -12.5),
    (15.94, -22.0), (15.96, -24.8), (15.97, -26.0), (16.07, -26.8), (16.07, -35.0),
    (16.08, -36.5), (16.07, -38.0), (16.88, 5.0), (16.89, -19.0), (16.89, -22.0),
    (16.90, -25.5), (16.91, -38.0), (16.91, -40.0), (16.92, -42.5), (16.92, -47.0),
    (16.92, -53.0), (17.05, -16.0), (17.15, -14.0), (17.21, 1.8), (17.54, -13.0),
    (17.97, 4.7), (18.11, 4.0), (17.98, -21.0), (18.02, -18.5), (18.78, 2.9),
    (18.95, -20.8), (19.02, -17.5), (19.86, -13.6), (19.87, -16.0), (19.88, -17.8),
    (19.90, 2.9), (19.89, 3.2), (19.99, -24.0), (19.98, -19.5), (20.08, -24.5),
    (20.09, -22.0), (20.29, -16.7), (20.29, -24.6), (20.95, -23.0), (20.97, -29.0),
    (20.97, -30.0), (21.11, -21.0), (21.12, -30.0), (21.12, -33.0), (21.23, 2.3),
    (21.54, 2.9), (22.53, 2.9), (22.76, 3.6), (22.03, -17.0), (22.03, -20.0),
    (21.58, -12.0), (22.14, -12.5), (23.00, -32.0), (23.01, -35.0), (23.02, -37.0),
    (23.03, -38.5), (23.04, -43.6), (23.06, -18.0), (23.11, 5.5), (23.16, -10.4),
    (22.98, -21.0), (22.99, -25.0),
]

# ---------------- build tables ----------------
def sampled(values_mm, first_epoch):
    n = len(values_mm)
    epochs = np.round(first_epoch + epoch_step * np.arange(n), 3)
    return pd.DataFrame({"t": epochs, "mm": values_mm})

def build_frame(a_mm, b_mm, outliers):
    df = pd.concat([sampled(a_mm, first_epoch_a),
                    sampled(b_mm, first_epoch_b),
                    pd.DataFrame(outliers, columns=["t", "mm"])],
                   ignore_index=True)
    df["m"] = df["mm"] / 1000.0  # mm -> m
    return df

frames = [build_frame(north_a_mm, north_b_mm, north_outliers),
          build_frame(east_a_mm, east_b_mm, east_outliers),
          build_frame(up_a_mm, up_b_mm, up_outliers)]
colors = ["#0000ff", "#ff0000", "#00ff00"]
yticks_all = [north_ticks, east_ticks, up_ticks]
xlabels = [north_info, east_info, None]

# ---------------- style ----------------
sns.set_style("white")
plt.rcParams["font.family"] = ["Liberation Sans", "DejaVu Sans"]
plt.rcParams["axes.unicode_minus"] = False

fig = plt.figure(figsize=(13.10, 10.43), dpi=100)
W, H = 1310.0, 1043.0
boxes = [(95, 313), (435, 655), (776, 996)]
left_px, right_px = 160, 1308

axes = []
for (top, bot) in boxes:
    ax = fig.add_axes([left_px / W, 1 - bot / H, (right_px - left_px) / W, (bot - top) / H])
    axes.append(ax)

for i, ax in enumerate(axes):
    df = frames[i]
    sns.scatterplot(data=df, x="t", y="m", ax=ax, color=colors[i], s=14,
                    linewidth=0, edgecolor="none", legend=False, zorder=3)
    ax.set_xlim(12, 24)
    yt = yticks_all[i]
    ax.set_ylim(min(yt), max(yt))
    ax.set_xticks(x_ticks)
    ax.set_yticks(yt)
    ax.set_yticklabels(["%g" % v for v in yt])
    ax.set_xticklabels([str(v) for v in x_ticks])
    ax.grid(True, color="#e2e2e2", linewidth=1.0)
    ax.set_axisbelow(True)
    for b in break_epochs:
        ax.axvline(b, color="#333333", linestyle=(0, (5, 4)), linewidth=1.4, zorder=4)
    ax.tick_params(direction="in", length=9, width=1.0, top=True, right=True,
                   labelsize=18, color="#404040", labelcolor="#262626")
    ax.tick_params(axis="y", pad=9)
    ax.tick_params(axis="x", pad=13)
    for sp in ax.spines.values():
        sp.set_color("#505050")
        sp.set_linewidth(1.5)
    ax.set_ylabel(component_labels[i], fontsize=20, color="#262626", labelpad=8)
    if xlabels[i]:
        ax.set_xlabel(xlabels[i], fontsize=17.2, color="#262626", labelpad=8)
    else:
        ax.set_xlabel("")

axes[0].set_title(title_text, fontsize=20.5, color="#111111", pad=24)

fig.savefig("out.png", dpi=100)
